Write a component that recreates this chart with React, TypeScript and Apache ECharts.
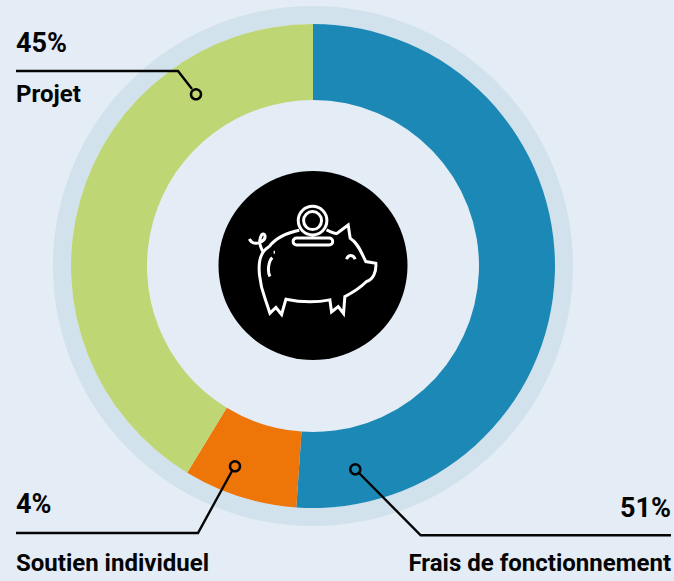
import React, { useEffect, useRef } from "react";
import * as echarts from "echarts";

const sliceNames = ["Frais de fonctionnement", "Soutien individuel", "Projet"];
// Arc sizes as drawn in the picture (the printed labels differ from the drawn arcs).
const sliceValues = [51.1, 7.6, 41.3];
const sliceColors = ["#1c88b6", "#ee7508", "#bfd674"];
const percentLabels = ["51%", "4%", "45%"];

const BG = "#e4ecf5";
const INK = "#050505";
const FONT = "Roboto, sans-serif";

const PIG =
  "M178 245C200 215 240 202 268 196M350 195C360 200 370 205 380 206L415 180L421 220C445 235 455 265 468 290L498 295C500 320 490 345 470 350C450 370 425 385 405 395L401 446L385 425L365 441L360 405C320 413 270 412 228 403L215 449L198 428L180 445L165 400C150 360 140 300 155 270C160 258 170 250 178 245" +
  "M160 262C150 245 145 225 155 210C165 200 172 220 155 230C140 240 125 235 118 222" +
  "M260 219L358 219A10.5 10.5 0 0 1 358 240L260 240A10.5 10.5 0 0 1 260 219Z" +
  "M410 283C415 268 430 268 436 283" +
  "M187 278C175 290 172 320 180 335" +
  "M191 262L195 262" +
  "M351 167A43 43 0 1 1 265 167A43 43 0 1 1 351 167Z" +
  "M335 167A27 27 0 1 1 281 167A27 27 0 1 1 335 167Z";

echarts.graphic.registerShape("pig", echarts.graphic.extendPath(PIG, {}));

const line = (points: number[][]) => ({
  type: "polyline",
  z: 10,
  shape: { points },
  style: { fill: "none", stroke: INK, lineWidth: 2.4 },
});
const dot = (x: number, y: number) => ({
  type: "circle",
  z: 11,
  shape: { cx: x, cy: y, r: 5 },
  style: { fill: "none", stroke: INK, lineWidth: 2.5 },
});
const label = (text: string, x: number, y: number, size: number, align = "left") => ({
  type: "text",
  z: 12,
  x,
  y,
  style: {
    text,
    fill: INK,
    font: `700 ${size}px ${FONT}`,
    textAlign: align,
    textVerticalAlign: "middle",
  },
});

export default function App() {
  const ref = useRef<HTMLDivElement>(null);
  useEffect(() => {
    document.body.style.margin = "0";
    document.body.style.background = BG;
    const chart = echarts.init(ref.current!, null, { renderer: "svg" });
    chart.setOption({
      animation: false,
      backgroundColor: BG,
      series: [
        {
          type: "pie",
          silent: true,
          center: [313, 266],
          radius: [242, 260],
          label: { show: false },
          labelLine: { show: false },
          itemStyle: { color: "#d2e2ec" },
          data: [{ name: "anneau", value: 1 }],
          z: 1,
        },
        {
          type: "pie",
          silent: true,
          center: [313, 266],
          radius: [166, 242],
          startAngle: 90,
          clockwise: true,
          label: { show: false },
          labelLine: { show: false },
          data: sliceNames.map((name, i) => ({
            name,
            value: sliceValues[i],
            itemStyle: { color: sliceColors[i] },
          })),
          z: 2,
        },
      ],
      graphic: [
        { type: "circle", z: 5, shape: { cx: 313, cy: 265.5, r: 94.5 }, style: { fill: "#000" } },
        {
          type: "pig",
          z: 6,
          x: 210,
          y: 165,
          scaleX: 1 / 3,
          scaleY: 1 / 3,
          style: { fill: "none", stroke: "#fff", lineWidth: 9 },
        },
        line([[16, 71], [178, 71], [192, 89]]),
        dot(196, 94.3),
        line([[16, 533], [198, 533], [232, 471]]),
        dot(235, 466.3),
        line([[671, 535.3], [420.7, 535.3], [359, 473]]),
        dot(355.3, 469.3),
        label(percentLabels[2], 16, 43, 27),
        label(sliceNames[2], 16, 94, 24),
        label(percentLabels[1], 16, 504, 27),
        label(sliceNames[1], 16, 563, 24),
        label(percentLabels[0], 671, 508, 27, "right"),
        label(sliceNames[0], 671, 563, 24, "right"),
      ],
    });
    return () => chart.dispose();
  }, []);
  return <div ref={ref} style={{ width: 674, height: 581 }} />;
}
